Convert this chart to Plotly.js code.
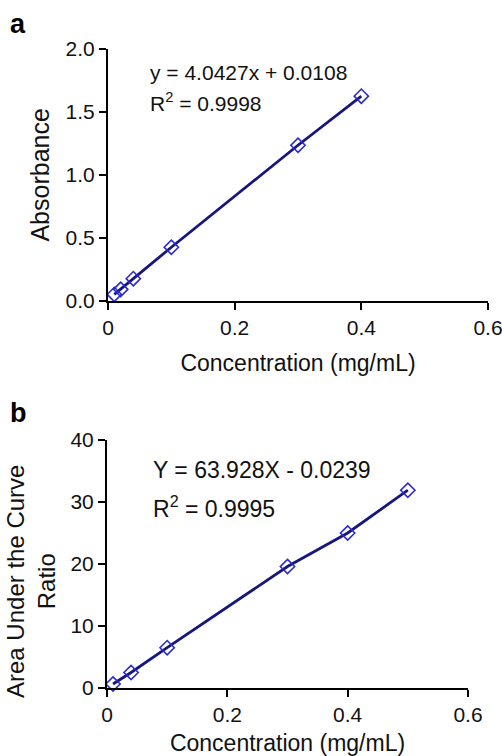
<!DOCTYPE html>
<html>
<head>
<meta charset="utf-8">
<script src="https://cdn.plot.ly/plotly-3.0.1.min.js"></script>
<style>html,body{margin:0;padding:0;background:#fff;}#chart{width:502px;height:756px;}</style>
</head>
<body>
<div id="chart"></div>
<script>
// Panel a: absorbance calibration
const concA = [0.01, 0.02, 0.04, 0.1, 0.3, 0.4];
const absorbance = [0.05, 0.09, 0.175, 0.425, 1.235, 1.625];
const eqA = "y = 4.0427x + 0.0108";
const r2A = "R<sup>2</sup> = 0.9998";

// Panel b: area under the curve ratio calibration
const concB = [0.01, 0.04, 0.1, 0.3, 0.4, 0.5];
const aucRatio = [0.65, 2.5, 6.5, 19.6, 25.0, 31.9];
const eqB = "Y = 63.928X - 0.0239";
const r2B = "R<sup>2</sup> = 0.9995";

const xTicks = [0, 0.2, 0.4, 0.6];
const xTickText = ["0", "0.2", "0.4", "0.6"];
const yTicksA = [0, 0.5, 1.0, 1.5, 2.0];
const yTicksB = [0, 10, 20, 30, 40];

const W = 502, H = 756;
const px = v => v / W;
const py = v => 1 - v / H;

const FONT = "Liberation Sans, Arial, sans-serif";
const lineColor = "#16167e";
const markerColor = "#2a2ad0";

const traceStyle = {
  type: "scatter",
  mode: "lines+markers",
  line: {color: lineColor, width: 2.8},
  marker: {symbol: "diamond-open", size: 11, color: markerColor, line: {width: 1.6, color: markerColor}},
  cliponaxis: false,
  showlegend: false
};

const data = [
  Object.assign({x: concA, y: absorbance, xaxis: "x", yaxis: "y"}, traceStyle),
  Object.assign({x: concB, y: aucRatio, xaxis: "x2", yaxis: "y2"}, traceStyle)
];

const axisBase = {
  showline: true, linecolor: "#000", linewidth: 2,
  ticks: "outside", ticklen: 7, tickwidth: 2, tickcolor: "#000",
  showgrid: false, zeroline: false, automargin: false,
  ticklabeloverflow: "allow",
  tickfont: {family: FONT, size: 21, color: "#111"},
  fixedrange: true
};

const layout = {
  width: W, height: H,
  margin: {l: 0, r: 0, t: 0, b: 0},
  paper_bgcolor: "#fff", plot_bgcolor: "#fff",
  font: {family: FONT, color: "#111"},
  xaxis: Object.assign({}, axisBase, {
    domain: [px(108), px(488)], range: [0, 0.6], anchor: "y",
    tickvals: xTicks, ticktext: xTickText,
    title: {text: "Concentration (mg/mL)", font: {family: FONT, size: 23, color: "#111"}, standoff: 17}
  }),
  yaxis: Object.assign({}, axisBase, {
    domain: [py(300.7), py(49)], range: [0, 2.0], anchor: "x",
    tickvals: yTicksA, tickformat: ".1f",
    title: {text: "Absorbance", font: {family: FONT, size: 25, color: "#111"}, standoff: 9}
  }),
  xaxis2: Object.assign({}, axisBase, {
    domain: [px(107), px(468)], range: [0, 0.6], anchor: "y2",
    tickvals: xTicks, ticktext: xTickText,
    title: {text: "Concentration (mg/mL)", font: {family: FONT, size: 23, color: "#111"}, standoff: 14}
  }),
  yaxis2: Object.assign({}, axisBase, {
    domain: [py(688), py(440)], range: [0, 40], anchor: "x2",
    tickvals: yTicksB
  }),
  annotations: [
    {text: "Area Under the Curve<br>Ratio", xref: "paper", yref: "paper", x: px(31), y: py(582), xanchor: "center", yanchor: "middle", textangle: -90, showarrow: false, font: {family: FONT, size: 24, color: "#111"}},
    {text: "<b>a</b>", xref: "paper", yref: "paper", x: px(8), y: py(24), xanchor: "left", yanchor: "middle", showarrow: false, font: {family: FONT, size: 27, color: "#000"}},
    {text: "<b>b</b>", xref: "paper", yref: "paper", x: px(8), y: py(413), xanchor: "left", yanchor: "middle", showarrow: false, font: {family: FONT, size: 27, color: "#000"}},
    {text: eqA, xref: "paper", yref: "paper", x: px(148), y: py(73), xanchor: "left", yanchor: "middle", showarrow: false, font: {family: FONT, size: 21, color: "#111"}},
    {text: r2A, xref: "paper", yref: "paper", x: px(148), y: py(102), xanchor: "left", yanchor: "middle", showarrow: false, font: {family: FONT, size: 21, color: "#111"}},
    {text: eqB, xref: "paper", yref: "paper", x: px(151), y: py(470), xanchor: "left", yanchor: "middle", showarrow: false, font: {family: FONT, size: 23, color: "#111"}},
    {text: r2B, xref: "paper", yref: "paper", x: px(151), y: py(507), xanchor: "left", yanchor: "middle", showarrow: false, font: {family: FONT, size: 23, color: "#111"}}
  ]
};

Plotly.newPlot("chart", data, layout, {displayModeBar: false, staticPlot: true});
</script>
</body>
</html>
